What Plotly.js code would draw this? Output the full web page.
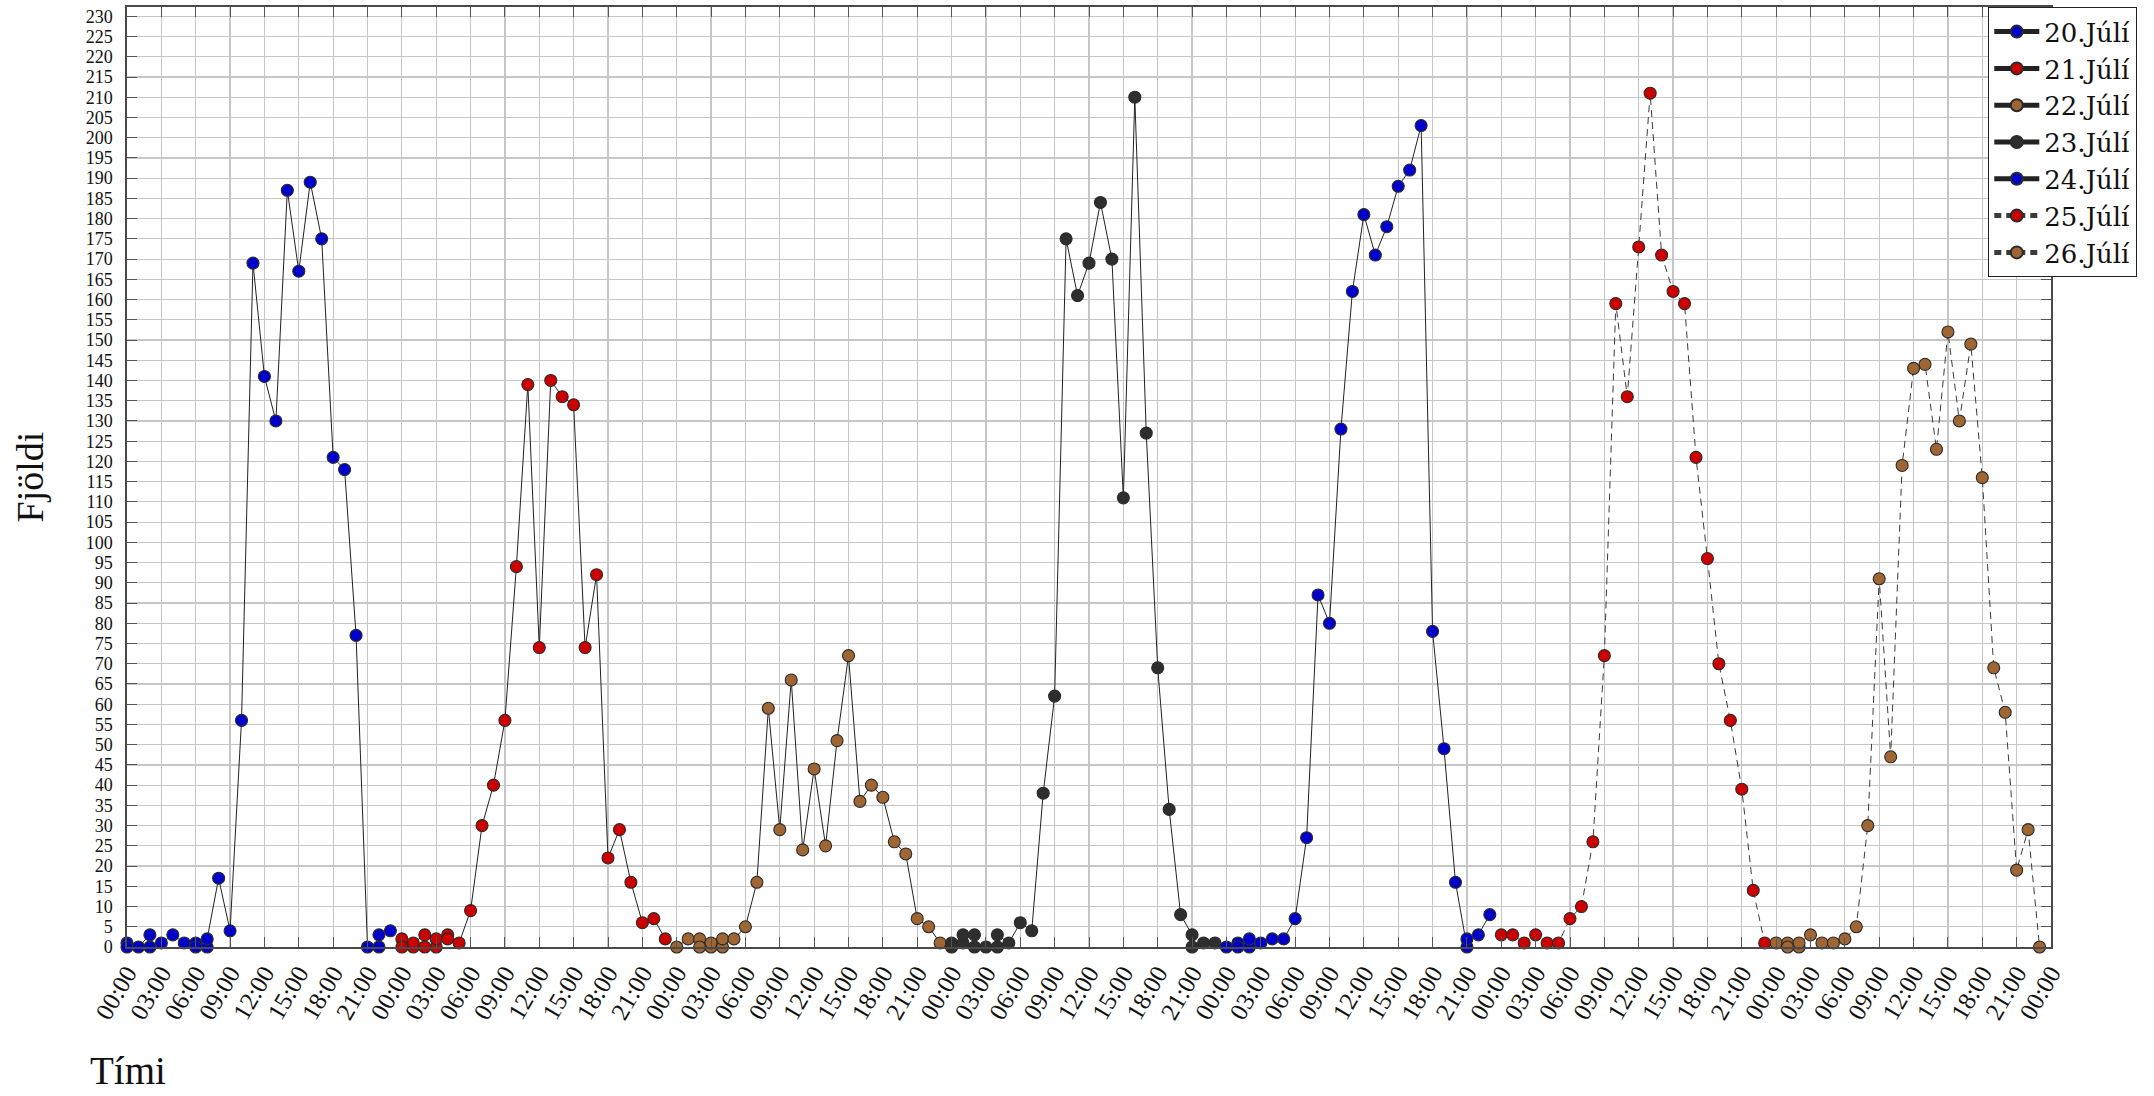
<!DOCTYPE html>
<html>
<head>
<meta charset="utf-8">
<script src="https://cdn.plot.ly/plotly-3.0.1.min.js"></script>
<style>html,body{margin:0;padding:0;background:#fff;}#chart{width:2154px;height:1096px;}</style>
</head>
<body>
<div id="chart"></div>
<script>
// Series names
const dayNames = ['20.Júlí', '21.Júlí', '22.Júlí', '23.Júlí', '24.Júlí', '25.Júlí', '26.Júlí'];

// Hour of day for each reading, and the count (Fjöldi) read at that hour
const hours20 = [0,0,1,2,2,3,4,5,6,6,7,7,8,9,10,11,12,13,14,15,16,17,18,19,20,21,22,22,23];
const counts20 = [1,0,0,3,0,1,3,1,1,0,0,2,17,4,56,169,141,130,187,167,189,175,121,118,77,0,0,3,4];

const hours21 = [0,0,1,1,2,2,3,3,4,4,5,6,7,8,9,10,11,12,13,14,15,16,17,18,19,20,21,22,23];
const counts21 = [2,0,0,1,3,0,0,2,3,2,1,9,30,40,56,94,139,74,140,136,134,74,92,22,29,16,6,7,2];

const hours22 = [0,1,2,2,3,3,4,4,5,6,7,8,9,10,11,12,13,14,15,16,17,18,19,20,21,22,23];
const counts22 = [0,2,2,0,0,1,0,2,2,5,16,59,29,66,24,44,25,51,72,36,40,37,26,23,7,5,1];

const hours23 = [0,0,1,1,2,2,3,4,4,5,6,7,8,9,10,11,12,13,14,15,16,17,18,19,20,21,21,22,23];
const counts23 = [1,0,1,3,3,0,0,0,3,1,6,4,38,62,175,161,169,184,170,111,210,127,69,34,8,3,0,1,1];

const hours24 = [0,1,1,2,2,3,4,5,6,7,8,9,10,11,12,13,14,15,16,17,18,19,20,21,21,22,23];
const counts24 = [0,1,0,0,2,1,2,2,7,27,87,80,128,162,181,171,178,188,192,203,78,49,16,0,2,3,8];

const hours25 = [0,1,2,3,4,5,6,7,8,9,10,11,12,13,14,15,16,17,18,19,20,21,22,23];
const counts25 = [3,3,1,3,1,1,7,10,26,72,159,136,173,211,171,162,159,121,96,70,56,39,14,1];

const hours26 = [0,1,1,2,2,3,4,5,6,7,8,9,10,11,12,13,14,15,16,17,18,19,20,21,22,23];
const counts26 = [1,1,0,0,1,3,1,1,2,5,30,91,47,119,143,144,123,152,130,149,116,69,58,19,29,0];

// Tick labels (every three hours)
const hourTickLabels = ['00:00','03:00','06:00','09:00','12:00','15:00','18:00','21:00'];

// Styles
const markerColors = ['#0000CC', '#CC0000', '#9F6633', '#2E2E2E', '#0000CC', '#CC0000', '#9F6633'];
const lineDash = ['solid','solid','solid','solid','solid','7px,5px','7px,5px'];
const lineColors = ['#222','#222','#222','#222','#222','#3a3a3a','#3a3a3a'];

const allHours = [hours20, hours21, hours22, hours23, hours24, hours25, hours26];
const allCounts = [counts20, counts21, counts22, counts23, counts24, counts25, counts26];

const traces = dayNames.map((name, d) => ({
  type: 'scatter',
  mode: 'lines+markers',
  name: name,
  x: allHours[d].map(h => d * 24 + h),
  y: allCounts[d],
  cliponaxis: false,
  line: {color: lineColors[d], width: 1, dash: lineDash[d]},
  marker: {symbol: 'circle', size: 12, color: markerColors[d], line: {color: '#2a2a2a', width: 1.1}}
}));

const tickvals = [];
const ticktext = [];
for (let d = 0; d < dayNames.length; d++) {
  hourTickLabels.forEach((lab, i) => { tickvals.push(d * 24 + i * 3); ticktext.push(lab); });
}
tickvals.push(dayNames.length * 24);
ticktext.push(hourTickLabels[0]);

const serif = '"Liberation Serif", "DejaVu Serif", serif';
const wideSerif = '"DejaVu Serif", "Liberation Serif", serif';

const layout = {
  width: 2154,
  height: 1096,
  margin: {l: 127, r: 103, t: 7, b: 149, pad: 0},
  paper_bgcolor: '#ffffff',
  plot_bgcolor: '#ffffff',
  font: {family: serif, color: '#111', size: 18},
  showlegend: true,
  legend: {
    x: 0.9673, y: 1, xanchor: 'left', yanchor: 'top',
    bgcolor: '#ffffff', bordercolor: '#222', borderwidth: 1.2,
    font: {family: wideSerif, size: 26, color: '#111'},
    tracegroupgap: 0, itemsizing: 'constant', itemwidth: 45
  },
  xaxis: {
    range: [0, 168],
    tickmode: 'array', tickvals: tickvals, ticktext: ticktext,
    tickangle: -60,
    tickfont: {family: serif, size: 25, color: '#111'},
    ticks: 'inside', ticklen: 10, tickwidth: 1, tickcolor: '#555',
    showgrid: true, gridcolor: '#c6c6c6', gridwidth: 1.2,
    showline: true, linecolor: '#4a4a4a', linewidth: 1.6, mirror: 'ticks',
    zeroline: false, fixedrange: true
  },
  yaxis: {
    range: [0, 232.3],
    tickmode: 'linear', tick0: 0, dtick: 5,
    tickfont: {family: serif, size: 18, color: '#111'},
    ticks: 'inside', ticklen: 10, tickwidth: 1, tickcolor: '#555',
    ticklabelstandoff: 9,
    showgrid: true, gridcolor: '#c6c6c6', gridwidth: 1.2,
    showline: true, linecolor: '#4a4a4a', linewidth: 1.6, mirror: 'ticks',
    zeroline: false, fixedrange: true,
    title: {text: 'Fjöldi', font: {family: serif, size: 38, color: '#111'}, standoff: 30}
  },
  annotations: [{
    text: 'Tími', xref: 'paper', yref: 'paper',
    x: -0.0205, y: -0.1565, xanchor: 'left', yanchor: 'bottom',
    showarrow: false, font: {family: serif, size: 39, color: '#111'}
  }]
};

Plotly.newPlot('chart', traces, layout, {displayModeBar: false, staticPlot: true});
</script>
</body>
</html>
